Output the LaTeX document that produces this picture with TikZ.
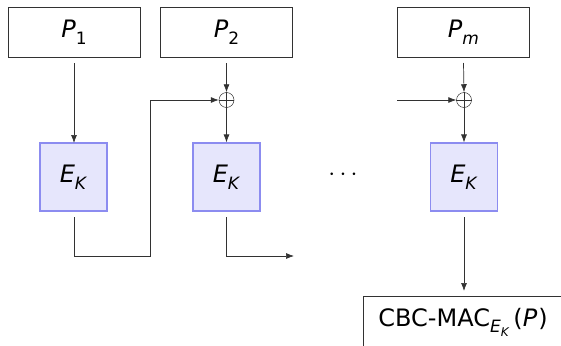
\documentclass[tikz,border=0pt]{standalone}
\usepackage{fontspec}
\setmainfont{DejaVu Sans}
\usetikzlibrary{arrows.meta}
\definecolor{efill}{RGB}{230,230,252}
\definecolor{edraw}{RGB}{140,140,240}
\definecolor{ln}{RGB}{50,50,50}
\newcommand{\ital}{\textit}
\newcommand{\sbs}[1]{\raisebox{-0.28em}{\fontsize{17}{17}\selectfont #1}}
\newcommand{\ssbs}[1]{\raisebox{-0.2em}{\fontsize{12}{12}\selectfont #1}}
\tikzset{
  x=1pt,y=-1pt,
  every node/.style={font=\fontsize{24}{28}\selectfont},
  pbox/.style={draw=ln,line width=0.8pt,minimum width=132pt,minimum height=50pt,inner sep=0pt},
  ebox/.style={draw=edraw,fill=efill,line width=1.2pt,minimum width=67pt,minimum height=68pt,inner sep=0pt},
  xorn/.style={circle,draw=ln,line width=0.5pt,minimum size=15pt,inner sep=0pt},
  conn/.style={draw=ln,line width=0.7pt,-{Latex[length=8pt,width=6pt]}},
}
\begin{document}
\begin{tikzpicture}
\clip (0,0) rectangle (561,345);
\useasboundingbox (0,0) rectangle (561,345);
\node[pbox] (p1) at (74,32) {\ital{P}\sbs{1}};
\node[pbox] (p2) at (226.5,32) {\ital{P}\sbs{2}};
\node[pbox] (pm) at (463.5,32) {\ital{P}\sbs{\ital{m}}};
\node[ebox] (e1) at (73.5,177) {\ital{E}\sbs{\ital{K}}};
\node[ebox] (e2) at (226.5,177) {\ital{E}\sbs{\ital{K}}};
\node[ebox] (em) at (464,177) {\ital{E}\sbs{\ital{K}}};
\node[xorn] (x2) at (226.5,100) {};
\node[xorn] (xm) at (464,100) {};
\draw[ln,line width=0.5pt] (x2.north)--(x2.south) (x2.west)--(x2.east);
\draw[ln,line width=0.5pt] (xm.north)--(xm.south) (xm.west)--(xm.east);
\node (dots) at (343,175) {$\cdots$};
\node[draw=ln,line width=0.8pt,minimum width=240pt,minimum height=60pt,anchor=north west,inner sep=0pt] (out) at (363,296) {};
\node (outt) at (463,322) {CBC-MAC\raisebox{-0.28em}{\fontsize{17}{17}\selectfont\ital{E}\ssbs{\ital{K}}}\,(\ital{P}\kern1pt)};
\coordinate (a1) at (74,63);
\coordinate (a1e) at (74,143);
\draw[conn] (a1) -- (a1e);
\coordinate (a2) at (226.5,63);
\draw[conn] (a2) -- (x2.north);
\coordinate (am) at (463.5,63);
\draw[conn] (am) -- (xm.north);
\draw[conn] (x2.south) -- (e2.north);
\draw[conn] (xm.south) -- (em.north);
\coordinate (f1) at (74,217);
\coordinate (f2) at (74,256);
\coordinate (f3) at (150,256);
\coordinate (f4) at (150,100);
\draw[conn] (f1) -- (f2) -- (f3) -- (f4) -- (x2.west);
\coordinate (g1) at (226.5,217);
\coordinate (g2) at (226.5,256);
\coordinate (g3) at (294,256);
\draw[conn] (g1) -- (g2) -- (g3);
\coordinate (h1) at (397,100);
\draw[conn] (h1) -- (xm.west);
\coordinate (k1) at (464,217);
\coordinate (k2) at (464,291);
\draw[conn] (k1) -- (k2);
\end{tikzpicture}
\end{document}
